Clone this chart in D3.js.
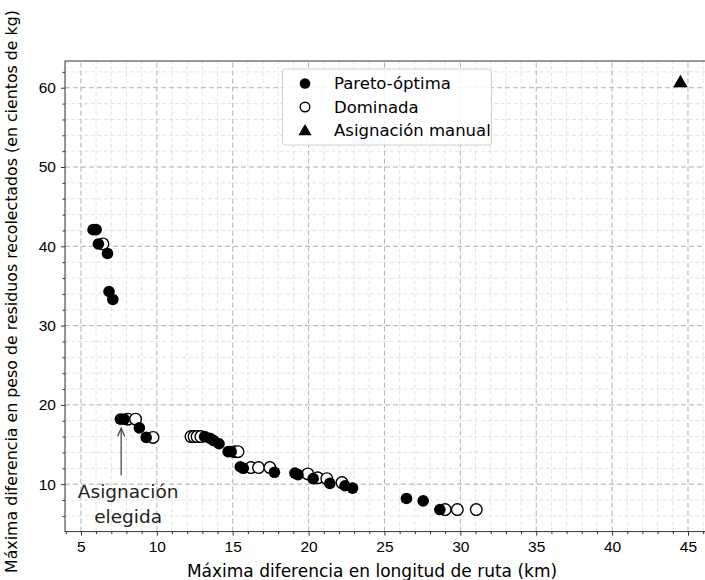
<!DOCTYPE html>
<html>
<head>
<meta charset="utf-8">
<script src="https://cdn.jsdelivr.net/npm/d3@7"></script>
<style>
  body { margin: 0; background: #fff; }
  svg { font-family: "DejaVu Sans", sans-serif; }
</style>
</head>
<body>
<svg id="chart" width="705" height="580"></svg>
<script>
// Pareto-optimal solutions (x = km, y = cientos de kg)
var paretoX = [5.8, 6.0, 6.15, 6.75, 6.85, 7.1, 7.6, 7.85, 8.85, 9.3, 13.15, 13.5, 13.75, 14.1, 14.7, 14.9, 15.5, 15.7, 17.75, 19.1, 19.3, 20.3, 21.4, 22.4, 22.9, 26.45, 27.55, 28.65]
var paretoY = [42.1, 42.1, 40.3, 39.1, 34.3, 33.3, 18.2, 18.2, 17.1, 15.9, 16.0, 15.8, 15.5, 15.1, 14.1, 14.1, 12.2, 12.0, 11.5, 11.4, 11.2, 10.7, 10.1, 9.8, 9.5, 8.2, 7.9, 6.8]
// Dominated solutions
var domX = [6.45, 8.1, 8.6, 9.75, 12.25, 12.45, 12.65, 12.9, 15.15, 15.35, 16.2, 16.7, 17.45, 19.95, 20.6, 21.2, 22.2, 29.0, 29.8, 31.05]
var domY = [40.3, 18.2, 18.2, 15.9, 16.0, 16.0, 16.0, 16.0, 14.1, 14.1, 12.1, 12.1, 12.1, 11.3, 10.8, 10.7, 10.2, 6.8, 6.8, 6.8]
// Manual assignment
var manualX = [44.5]
var manualY = [60.7]
// Chosen assignment
var chosen = [7.65, 18.2]

var xTicks = [5, 10, 15, 20, 25, 30, 35, 40, 45]
var yTicks = [10, 20, 30, 40, 50, 60]

var dimensions = {
    width: 705,
    height: 580,
    margin: { top: 61, bottom: 48.4, left: 65, right: -5 }
}

var svg = d3.select("#chart")

var xScale = d3.scaleLinear()
    .domain([3.95, 46.45])
    .range([dimensions.margin.left, dimensions.width - dimensions.margin.right])

var yScale = d3.scaleLinear()
    .domain([4.02, 63.37])
    .range([dimensions.height - dimensions.margin.bottom, dimensions.margin.top])

var x0 = xScale.range()[0], x1 = xScale.range()[1]
var y0 = yScale.range()[0], y1 = yScale.range()[1]

// grid
var minorX = d3.range(4, 47, 1).filter(d => d % 5 != 0)
var minorY = d3.range(6, 64, 2).filter(d => d % 10 != 0)

svg.append("g").selectAll("line").data(minorX).enter().append("line")
    .attr("x1", d => xScale(d)).attr("x2", d => xScale(d))
    .attr("y1", y0).attr("y2", y1)
    .attr("stroke", "#dcdcdc").attr("stroke-width", 0.8).attr("stroke-dasharray", "4,2.5")
svg.append("g").selectAll("line").data(minorY).enter().append("line")
    .attr("y1", d => yScale(d)).attr("y2", d => yScale(d))
    .attr("x1", x0).attr("x2", x1)
    .attr("stroke", "#dcdcdc").attr("stroke-width", 0.8).attr("stroke-dasharray", "4,2.5")
svg.append("g").selectAll("line").data(xTicks).enter().append("line")
    .attr("x1", d => xScale(d)).attr("x2", d => xScale(d))
    .attr("y1", y0).attr("y2", y1)
    .attr("stroke", "#b0b0b0").attr("stroke-width", 1).attr("stroke-dasharray", "5,3")
svg.append("g").selectAll("line").data(yTicks).enter().append("line")
    .attr("y1", d => yScale(d)).attr("y2", d => yScale(d))
    .attr("x1", x0).attr("x2", x1)
    .attr("stroke", "#b0b0b0").attr("stroke-width", 1).attr("stroke-dasharray", "5,3")

// axes
var xAxis = d3.axisBottom(xScale).tickValues(xTicks).tickSize(4).tickPadding(5)
var gx = svg.append("g").attr("transform", "translate(0," + y0 + ")").call(xAxis)
gx.select(".domain").remove()
var xMinor = d3.axisBottom(xScale).tickValues(minorX).tickSize(2.5).tickFormat("")
var gxm = svg.append("g").attr("transform", "translate(0," + y0 + ")").call(xMinor)
gxm.select(".domain").remove()

var yAxis = d3.axisLeft(yScale).tickValues(yTicks).tickSize(4).tickPadding(5)
var gy = svg.append("g").attr("transform", "translate(" + x0 + ",0)").call(yAxis)
gy.select(".domain").remove()
var yMinor = d3.axisLeft(yScale).tickValues(minorY).tickSize(2.5).tickFormat("")
var gym = svg.append("g").attr("transform", "translate(" + x0 + ",0)").call(yMinor)
gym.select(".domain").remove()

svg.selectAll(".tick text").style("font-size", "15.5px").attr("fill", "#000")
svg.selectAll(".tick line").attr("stroke", "#333")

// spines
svg.append("rect")
    .attr("x", x0).attr("y", y1)
    .attr("width", x1 - x0).attr("height", y0 - y1)
    .attr("fill", "none").attr("stroke", "#333").attr("stroke-width", 1)

// points
var pareto = paretoX.map((d, i) => [d, paretoY[i]])
var dominated = domX.map((d, i) => [d, domY[i]])
var manual = manualX.map((d, i) => [d, manualY[i]])

var r = 5.8
svg.append("g").selectAll("circle").data(dominated).enter().append("circle")
    .attr("cx", d => xScale(d[0])).attr("cy", d => yScale(d[1])).attr("r", r)
    .attr("fill", "white").attr("stroke", "black").attr("stroke-width", 1.4)
svg.append("g").selectAll("circle").data(pareto).enter().append("circle")
    .attr("cx", d => xScale(d[0])).attr("cy", d => yScale(d[1])).attr("r", r)
    .attr("fill", "black")
svg.append("g").selectAll("path").data(manual).enter().append("path")
    .attr("d", d3.symbol().type(d3.symbolTriangle).size(90))
    .attr("transform", d => "translate(" + xScale(d[0]) + "," + (yScale(d[1]) + 1) + ")")
    .attr("fill", "black")

// annotation
var ax = xScale(chosen[0]), ay = yScale(chosen[1]) + 9
svg.append("line")
    .attr("x1", ax).attr("x2", ax).attr("y1", ay + 47).attr("y2", ay)
    .attr("stroke", "#3a3a4a").attr("stroke-width", 1.2)
svg.append("path")
    .attr("d", "M" + (ax - 3.5) + "," + (ay + 8) + "L" + ax + "," + ay + "L" + (ax + 3.5) + "," + (ay + 8))
    .attr("fill", "none").attr("stroke", "#3a3a4a").attr("stroke-width", 1.2)
var ann = svg.append("text").attr("text-anchor", "middle").style("font-size", "18.5px").attr("fill", "#222")
ann.append("tspan").attr("x", ax + 7).attr("y", 498).text("Asignación")
ann.append("tspan").attr("x", ax + 7).attr("y", 523).text("elegida")

// legend
var lg = svg.append("g")
lg.append("rect").attr("x", 282.5).attr("y", 69).attr("width", 209).attr("height", 76)
    .attr("rx", 3).attr("fill", "white").attr("fill-opacity", 0.85)
    .attr("stroke", "#d0d0d0").attr("stroke-width", 1)
var legendItems = ["Pareto-óptima", "Dominada", "Asignación manual"]
var legendY = [83.5, 107, 130.5]
lg.append("circle").attr("cx", 305).attr("cy", legendY[0]).attr("r", 5.3).attr("fill", "black")
lg.append("circle").attr("cx", 305).attr("cy", legendY[1]).attr("r", 4.8).attr("fill", "white").attr("stroke", "black").attr("stroke-width", 1.4)
lg.append("path").attr("d", d3.symbol().type(d3.symbolTriangle).size(75))
    .attr("transform", "translate(305," + (legendY[2] + 1) + ")").attr("fill", "black")
lg.selectAll("text").data(legendItems).enter().append("text")
    .attr("x", 334).attr("y", (d, i) => legendY[i]).attr("dy", "0.35em")
    .style("font-size", "16.5px").text(d => d)

// axis labels
svg.append("text")
    .attr("x", 372).attr("y", 577)
    .attr("text-anchor", "middle").style("font-size", "17px")
    .text("Máxima diferencia en longitud de ruta (km)")
svg.append("text")
    .attr("transform", "rotate(-90)")
    .attr("x", -291.5).attr("y", 17)
    .attr("text-anchor", "middle").style("font-size", "15.8px")
    .text("Máxima diferencia en peso de residuos recolectados (en cientos de kg)")
</script>
</body>
</html>
